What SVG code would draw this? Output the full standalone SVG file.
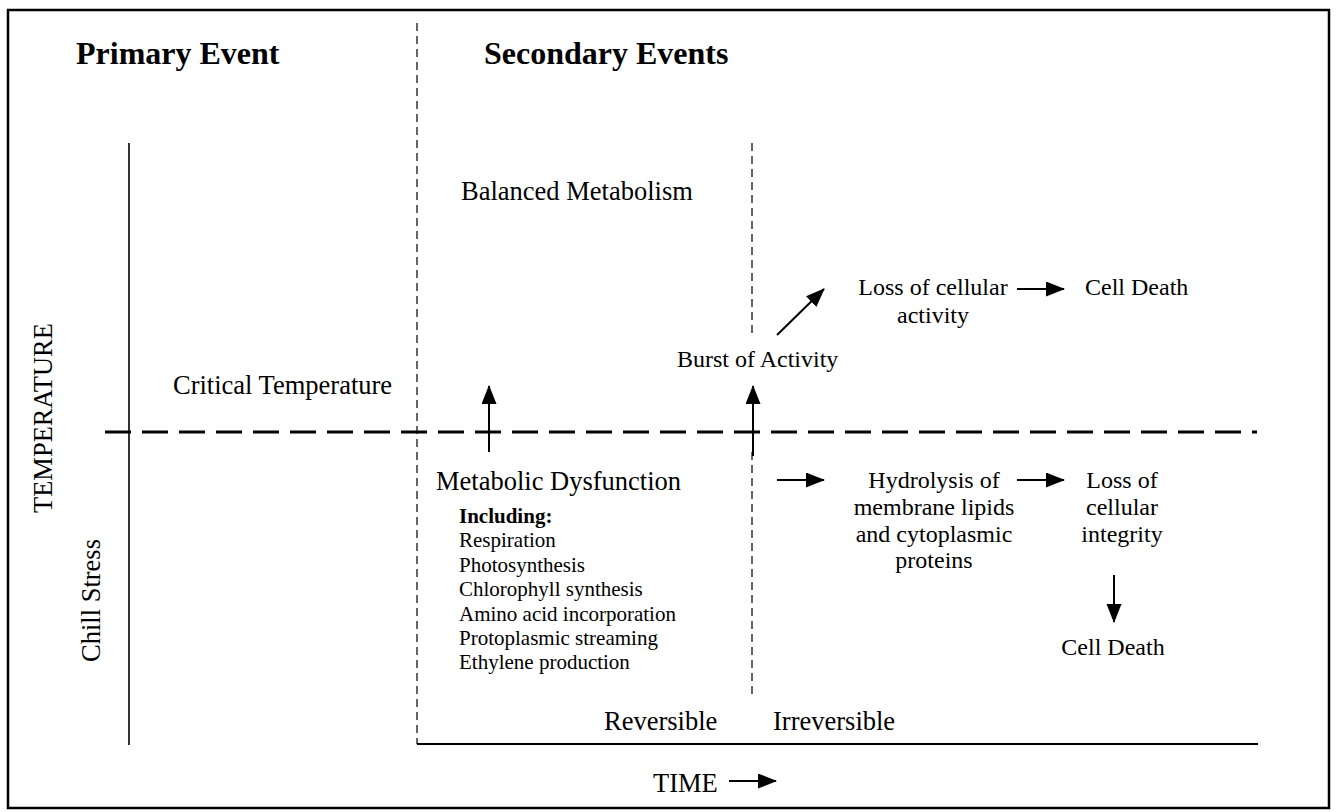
<svg xmlns="http://www.w3.org/2000/svg" width="1336" height="812" viewBox="0 0 1336 812">
<style>
text{font-family:"Liberation Serif","Times New Roman",serif;fill:#000}
.h{font-weight:bold;font-size:32px}
.m{font-size:26.5px}
.s{font-size:24px}
.l{font-size:21px}
.c{text-anchor:middle}
.ln{stroke:#000;fill:none}
.arr{stroke:#000;stroke-width:2;fill:none;marker-end:url(#ah)}
</style>
<defs>
<marker id="ah" markerUnits="userSpaceOnUse" markerWidth="20" markerHeight="16" refX="18" refY="7.5" orient="auto">
<path d="M0,0 L19,7.5 L0,15 z" fill="#000"/>
</marker>
</defs>
<rect x="0" y="0" width="1336" height="812" fill="#fff"/>
<rect x="8" y="10" width="1321" height="798" fill="none" stroke="#000" stroke-width="2.5"/>

<g id="frame">
<line class="ln" x1="129" y1="143" x2="129" y2="745" stroke-width="1.6"/>
<line class="ln" x1="417" y1="744" x2="1258" y2="744" stroke-width="1.8"/>
<line class="ln" x1="417" y1="23" x2="417" y2="744" stroke-width="1.2" stroke-dasharray="8,5"/>
<line class="ln" x1="752" y1="143" x2="752" y2="335" stroke-width="1.2" stroke-dasharray="8,5"/>
<line class="ln" x1="752" y1="452" x2="752" y2="697" stroke-width="1.2" stroke-dasharray="8,5"/>
<line class="ln" x1="105" y1="432" x2="1257" y2="432" stroke-width="3" stroke-dasharray="26,11"/>
</g>

<g id="headers">
<text class="h" x="76" y="64">Primary Event</text>
<text class="h" x="484" y="64">Secondary Events</text>
</g>

<g id="axis-temperature">
<text class="m" transform="translate(52,513) rotate(-90)" font-size="26">TEMPERATURE</text>
</g>
<g id="chill-stress">
<text class="m" transform="translate(100,662) rotate(-90)" font-size="26">Chill Stress</text>
</g>
<g id="critical-temperature">
<text class="m" x="173" y="394">Critical Temperature</text>
</g>
<g id="balanced-metabolism">
<text class="m" x="461" y="200">Balanced Metabolism</text>
</g>
<g id="burst-of-activity">
<text class="s" x="677" y="367">Burst of Activity</text>
</g>
<g id="loss-of-cellular-activity">
<text class="s c" x="933" y="295">Loss of cellular</text>
<text class="s c" x="933" y="323">activity</text>
</g>
<g id="cell-death-1">
<text class="s" x="1085" y="295">Cell Death</text>
</g>
<g id="metabolic-dysfunction">
<text class="m" x="436" y="490">Metabolic Dysfunction</text>
<text class="l" x="459" y="523" font-weight="bold">Including:</text>
<text class="l" x="459" y="547">Respiration</text>
<text class="l" x="459" y="572">Photosynthesis</text>
<text class="l" x="459" y="596">Chlorophyll synthesis</text>
<text class="l" x="459" y="621">Amino acid incorporation</text>
<text class="l" x="459" y="645">Protoplasmic streaming</text>
<text class="l" x="459" y="669">Ethylene production</text>
</g>
<g id="hydrolysis">
<text class="s c" x="934" y="488">Hydrolysis of</text>
<text class="s c" x="934" y="515">membrane lipids</text>
<text class="s c" x="934" y="542">and cytoplasmic</text>
<text class="s c" x="934" y="568">proteins</text>
</g>
<g id="loss-of-cellular-integrity">
<text class="s c" x="1122" y="488">Loss of</text>
<text class="s c" x="1122" y="515">cellular</text>
<text class="s c" x="1122" y="542">integrity</text>
</g>
<g id="cell-death-2">
<text class="s c" x="1113" y="655">Cell Death</text>
</g>
<g id="reversible">
<text class="m" x="604" y="730">Reversible</text>
</g>
<g id="irreversible">
<text class="m" x="773" y="730">Irreversible</text>
</g>
<g id="time">
<text class="m" x="653" y="792" font-size="26">TIME</text>
</g>

<g id="connectors">
<line class="arr" x1="489" y1="452" x2="489" y2="386"/>
<line class="arr" x1="753" y1="456" x2="753" y2="386"/>
<line class="arr" x1="777" y1="335" x2="824" y2="289"/>
<line class="arr" x1="1017" y1="289" x2="1064" y2="289"/>
<line class="arr" x1="777" y1="480" x2="824" y2="480"/>
<line class="arr" x1="1017" y1="480" x2="1064" y2="480"/>
<line class="arr" x1="1114" y1="575" x2="1114" y2="622"/>
<line class="arr" x1="729" y1="781" x2="776" y2="781"/>
</g>
</svg>
